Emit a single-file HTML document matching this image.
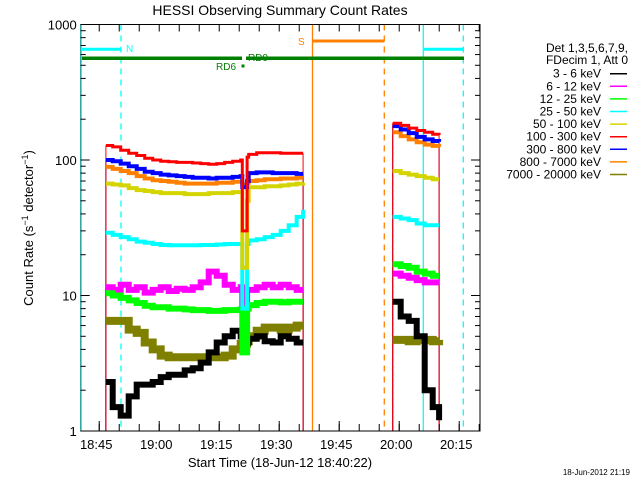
<!DOCTYPE html>
<html><head><meta charset="utf-8"><style>
body{margin:0;background:#fff;}
svg{display:block;font-family:"Liberation Sans",sans-serif;}
</style></head><body>
<svg id="chart" width="640" height="480" viewBox="0 0 640 480" xmlns="http://www.w3.org/2000/svg">
<rect x="0" y="0" width="640" height="480" fill="#fff"/>
<text x="280" y="15" font-size="14" text-anchor="middle">HESSI Observing Summary Count Rates</text>
<text transform="translate(33,228) rotate(-90)" font-size="13" text-anchor="middle">Count Rate (s<tspan dy="-5" font-size="9">−1</tspan><tspan dy="5"> detector</tspan><tspan dy="-5" font-size="9">−1</tspan><tspan dy="5">)</tspan></text>
<text x="280" y="467" font-size="13" text-anchor="middle">Start Time (18-Jun-12 18:40:22)</text>
<text x="630" y="475" font-size="8" text-anchor="end">18-Jun-2012 21:19</text>
<g id="grid"></g>
<g id="series"></g>
<g id="axes"></g>
<g id="legend"></g>
</svg>
<script>
const tickLabelsY = ["1","10","100","1000"];
const tickValsY = [1,10,100,1000];
const tickLabelsX = ["18:45","19:00","19:15","19:30","19:45","20:00","20:15"];
const tickMinX = [4.633,19.633,34.633,49.633,64.633,79.633,94.633];
const seg1T = [6.3,8,10,12,14,16,18,20,22,24,26,28,30,32,34,36,38,40,40.4,41.6,42,44,46,48,50,52,54,55.6];
const seg2T = [78,80,82,84,86,88,89.6];
const legendLabels = ["3 - 6 keV","6 - 12 keV","12 - 25 keV","25 - 50 keV","50 - 100 keV","100 - 300 keV","300 - 800 keV","800 - 7000 keV","7000 - 20000 keV"];
const olive1 = [6.5,6.5,6.5,5.6,5.3,4.5,4.0,3.6,3.5,3.5,3.5,3.5,3.5,3.5,3.5,3.6,4,4.4,4.4,4.6,5,5.5,5.8,5.8,5.6,5.8,6,6];
const olive2 = [4.7,4.7,4.6,4.7,4.7,4.6,4.7];
const black1 = [2.3,1.5,1.3,1.8,2.2,2.2,2.3,2.5,2.6,2.6,2.8,2.9,3.2,3.8,4.5,5,5.5,5,4,4.5,4.8,5,4.6,4.5,5,4.8,4.5,4.5];
const black2 = [9,7,6.5,5,2,1.5,1.2];
const magenta1 = [11.5,11,12,11,11.5,10.5,11,11.5,10.8,11.2,11,11.5,12.5,15,14,12,11,11.5,8,11,11,11.5,12,11.5,12,11.5,11,11];
const magenta2 = [14.5,14,13.5,13,12.5,12.5,12.5];
const green1 = [10.4,10,9.6,9.2,8.8,8.4,8.2,8.2,8,8,7.9,7.8,7.8,7.7,7.7,7.8,7.8,7.9,3.8,8,8.5,8.8,9,9,8.9,9,9,9];
const green2 = [17,16.5,16,15,14.5,14,14];
const cyan1 = [29,28,27,26,25,24.5,24,23.6,23.5,23.5,23.5,23.5,23.6,23.6,23.8,24,24,24,8,24,25.5,26,27,28,30,33,38,43];
const cyan2 = [38,37,36,34,33,33,33];
const yellow1 = [67,66,65,62,60,59,58,57,57,57,56,56,56,57,57,57,58,58,16,50,63,63,64,64,65,66,67,68];
const yellow2 = [83,80,78,76,74,72,72];
const orange1 = [89,86,83,80,76,73,71,70,69,68,67,67,67,67,68,68,69,69,66,68,70,71,72,72,73,73,74,74];
const orange2 = [160,150,142,135,130,127,125];
const blue1 = [100,98,94,90,86,82,80,78,77,76,75,74,74,73,74,74,75,76,63,70,80,81,81,80,80,80,79,79];
const blue2 = [178,168,158,148,142,138,136];
const red1 = [128,125,118,112,108,103,100,98,97,96,96,95,94,93,94,96,98,100,30,105,110,113,113,113,112,112,112,112];
const red2 = [187,180,172,165,160,155,153];

const NS="http://www.w3.org/2000/svg";
const L=80.7,R=480,T=24.5,B=431;
const xMin=0,xMax=99.83;
function xs(t){return L+(t-xMin)/(xMax-xMin)*(R-L);}
function ys(v){return B-(Math.log10(v))/3*(B-T);}
function el(tag,attrs,parent){const e=document.createElementNS(NS,tag);for(const k in attrs)e.setAttribute(k,attrs[k]);parent.appendChild(e);return e;}
const grid=document.getElementById('grid'),ser=document.getElementById('series'),ax=document.getElementById('axes'),leg=document.getElementById('legend');

const vlines=[[L+0.5,'#00ffff',''],[121,'#00ffff','6,5'],[312.5,'#ff8000',''],[384.3,'#ff8000','6,5'],[423.3,'#00ffff',''],[463.3,'#00ffff','6,5']];
vlines.forEach(v=>{const l=el('line',{x1:v[0],x2:v[0],y1:T,y2:B,stroke:v[1],'stroke-width':1.3,'stroke-dasharray':v[2]},grid);

});
const bars=[[L,121,49.3,'#00ffff',3],[423.3,463.3,49.3,'#00ffff',3],[312.5,384.3,41,'#ff8000',3],[L,242,58.3,'#008000',3.5],[246,464,58.3,'#008000',3.5]];
bars.forEach(b=>{const l=el('line',{x1:b[0],x2:b[1],y1:b[2],y2:b[2],stroke:b[3],'stroke-width':b[4]},grid);

});
el('rect',{x:241.5,y:64.5,width:3,height:3,fill:'#008000'},grid);
const flags=[['N',126,52,'#00ffff'],['S',298,45,'#ff8000'],['RD9',248,61,'#008000'],['RD6',216,70,'#008000']];
flags.forEach(f=>{const t=el('text',{x:f[1],y:f[2],fill:f[3],'font-size':10},grid);t.textContent=f[0];

});

function stepPath(ts,vs,tEnd){let d='';for(let i=0;i<ts.length;i++){const x0=xs(ts[i]),x1=xs(i<ts.length-1?ts[i+1]:tEnd),y=ys(vs[i]);
d+=(i===0?'M':'L')+x0.toFixed(1)+','+y.toFixed(1)+'L'+x1.toFixed(1)+','+y.toFixed(1);}
return d;}
const seriesDefs=[
 ['olive','#808000',olive1,olive2,8],
 ['black','#000000',black1,black2,6],
 ['magenta','#ff00ff',magenta1,magenta2,6],
 ['green','#00ff00',green1,green2,6],
 ['cyan','#00ffff',cyan1,cyan2,4],
 ['yellow','#d4d400',yellow1,yellow2,4],
 ['orange','#ff8000',orange1,orange2,4],
 ['blue','#0000ff',blue1,blue2,4],
 ['red','#ff0000',red1,red2,3]];
seriesDefs.forEach(s=>{
 [[seg1T,s[2],55.6],[seg2T,s[3],89.6]].forEach(g=>{
  const e1=el('line',{x1:xs(g[0][0]),x2:xs(g[0][0]),y1:ys(g[1][0]),y2:B,stroke:s[1],'stroke-width':1},ser);
  
  
  const e2=el('line',{x1:xs(g[2]),x2:xs(g[2]),y1:ys(g[1][g[1].length-1]),y2:B,stroke:s[1],'stroke-width':1},ser);
  
  
 });
});
seriesDefs.forEach(s=>{
 const p1=el('path',{d:stepPath(seg1T,s[2],55.6),fill:'none',stroke:s[1],'stroke-width':s[4]},ser);
 
 
 const p2=el('path',{d:stepPath(seg2T,s[3],89.6),fill:'none',stroke:s[1],'stroke-width':s[4]},ser);
 
 
});

const fr=el('rect',{x:L,y:T,width:R-L,height:B-T,fill:'none',stroke:'#000','stroke-width':1},ax);


el('line',{x1:L+0.5,x2:L+0.5,y1:T,y2:B,stroke:'#00ffff','stroke-width':1.3},ax);
for(let d=0;d<3;d++){for(let m=1;m<10;m++){const v=Math.pow(10,d)*m;const y=ys(v);const len=m===1?9:5;
 el('line',{x1:L,x2:L+len,y1:y,y2:y,stroke:'#000'},ax);el('line',{x1:R-len,x2:R,y1:y,y2:y,stroke:'#000'},ax);}}
el('line',{x1:L,x2:L+9,y1:ys(1000),y2:ys(1000),stroke:'#000'},ax);
tickValsY.forEach((v,i)=>{const t=el('text',{x:L-4,y:ys(v)+5,'font-size':13,'text-anchor':'end'},ax);t.textContent=tickLabelsY[i];

});
for(let t=4.633-5;t<xMax;t+=5){if(t<0)continue;const x=xs(t);
 el('line',{x1:x,x2:x,y1:B,y2:B-7,stroke:'#000'},ax);el('line',{x1:x,x2:x,y1:T,y2:T+7,stroke:'#000'},ax);}
tickMinX.forEach((t,i)=>{const x=xs(t);el('line',{x1:x,x2:x,y1:B,y2:B-10,stroke:'#000'},ax);
 const tx=el('text',{x:x-3,y:B+18,'font-size':13,'text-anchor':'middle'},ax);tx.textContent=tickLabelsX[i];
 
 });

const legColors=['#000000','#ff00ff','#00ff00','#00ffff','#d4d400','#ff0000','#0000ff','#ff8000','#808000'];
const h1=el('text',{x:628,y:52,'font-size':12,'text-anchor':'end'},leg);h1.textContent='Det 1,3,5,6,7,9,';
const h2=el('text',{x:628,y:64,'font-size':12,'text-anchor':'end'},leg);h2.textContent='FDecim 1, Att 0';
legendLabels.forEach((lab,i)=>{const y=73.7+i*12.6;
 const t=el('text',{x:601,y:y+4,'font-size':12,'text-anchor':'end'},leg);t.textContent=lab;
 
 
 const l=el('line',{x1:610,x2:627,y1:y,y2:y,stroke:legColors[i],'stroke-width':1.5},leg);
 
 });
</script>
</body></html>
